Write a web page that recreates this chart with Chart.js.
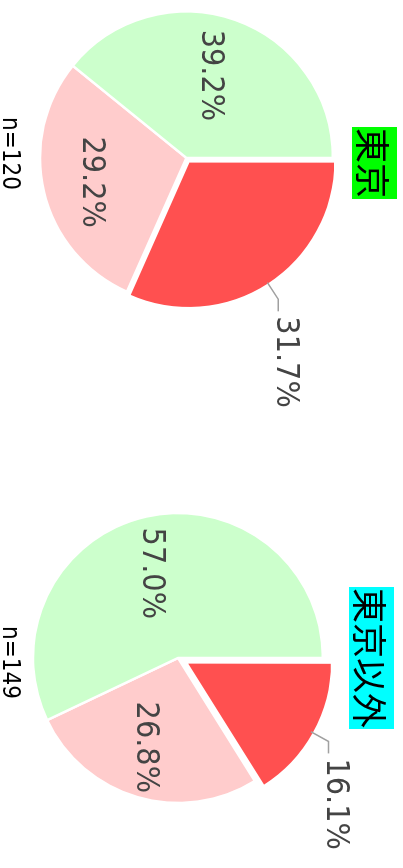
<!DOCTYPE html>
<html>
<head>
<meta charset="utf-8">
<script src="https://cdn.jsdelivr.net/npm/chart.js@4"></script>
<style>
  body { margin: 0; overflow: hidden; background: #fff; }
  /* the whole picture is laid out sideways and then turned 90deg */
  #stage { position: absolute; left: 0; top: 0; width: 868px; height: 403px;
           transform-origin: 0 0; transform: translate(403px, 0) rotate(90deg); }
  .pie { position: absolute; top: 0; }
  .ttl { position: absolute; font-family: "Noto Sans CJK JP"; font-size: 35px;
         line-height: 45px; color: #000; padding: 0 1px; white-space: nowrap; }
  .cnt { position: absolute; font-family: "DejaVu Sans Condensed", "DejaVu Sans"; font-stretch: condensed;
         font-size: 24px; line-height: 1; color: #000; white-space: nowrap; }
</style>
</head>
<body>
<div id="stage">
  <canvas id="pie1" class="pie" width="434" height="403" style="left:0"></canvas>
  <canvas id="pie2" class="pie" width="434" height="403" style="left:434px"></canvas>
  <div id="t1" class="ttl" style="left:127px; top:6px; background:#00ff00"></div>
  <div id="t2" class="ttl" style="left:587px; top:9px; background:#00ffff"></div>
  <div id="n1" class="cnt" style="left:117px; top:380px"></div>
  <div id="n2" class="cnt" style="left:626px; top:380px"></div>
</div>
<script>
// data
const categories = ['項目1', '項目2', '項目3'];
const tokyoValues = [31.7, 29.2, 39.2];
const otherValues = [16.1, 26.8, 57.0];
const titles = ['東京', '東京以外'];
const counts = ['n=120', 'n=149'];

const sliceColors = ['#ff5050', '#ffcccc', '#ccffcc'];
const labelFont = '32px "DejaVu Sans Condensed", "DejaVu Sans"';

document.getElementById('t1').textContent = titles[0];
document.getElementById('t2').textContent = titles[1];
document.getElementById('n1').textContent = counts[0];
document.getElementById('n2').textContent = counts[1];

// percent labels: first slice outside with a connector, the others inside
const pctLabels = {
    id: 'pctLabels',
    afterDatasetsDraw(chart) {
        const ctx = chart.ctx;
        const meta = chart.getDatasetMeta(0);
        const values = chart.data.datasets[0].data;
        ctx.save();
        ctx.font = labelFont;
        if ('fontStretch' in ctx) ctx.fontStretch = 'condensed';
        ctx.fillStyle = '#444';
        meta.data.forEach((arc, i) => {
            const p = arc.getProps(['x', 'y', 'startAngle', 'endAngle', 'outerRadius'], true);
            const mid = (p.startAngle + p.endAngle) / 2;
            const cx = Math.cos(mid), cy = Math.sin(mid);
            const txt = values[i].toFixed(1) + '%';
            if (i === 0) {
                // chart.js moves an offset slice by offset/4
                const off = (arc.options.offset || 0) / 4;
                const r0 = p.outerRadius + off - 2;
                const r1 = p.outerRadius + off + 18;
                const ex = p.x + cx * r1, ey = p.y + cy * r1;
                ctx.strokeStyle = '#a0a0a0';
                ctx.lineWidth = 1.5;
                ctx.beginPath();
                ctx.moveTo(p.x + cx * r0, p.y + cy * r0);
                ctx.lineTo(ex, ey);
                ctx.lineTo(ex + 12, ey);
                ctx.stroke();
                ctx.textAlign = 'left';
                ctx.textBaseline = 'alphabetic';
                ctx.fillText(txt, ex + 17, ey + 1);
            } else {
                const r = p.outerRadius * 0.62;
                ctx.textAlign = 'center';
                ctx.textBaseline = 'middle';
                ctx.fillText(txt, p.x + cx * r + 3, p.y + cy * r + 7);
            }
        });
        ctx.restore();
    }
};

function pieChart(id, values, radius, sliceOffset, pad) {
    const data = {
        labels: categories,
        datasets: [{
            data: values,
            backgroundColor: sliceColors,
            borderColor: '#ffffff',
            borderWidth: 2.5,
            offset: [sliceOffset * 4, 0, 0],
            radius: radius
        }]
    };

    const config = {
        type: 'pie',
        data: data,
        options: {
            responsive: false,
            animation: false,
            layout: { padding: pad },
            plugins: {
                legend: { display: false },
                tooltip: { enabled: false }
            }
        },
        plugins: [pctLabels]
    };

    let ctx = document.getElementById(id).getContext('2d');
    new Chart(ctx, config);
}

pieChart('pie1', tokyoValues, 146.5, 4, { left: 0, right: 118, top: 30, bottom: 0 });
pieChart('pie2', otherValues, 145, 9, { left: 14, right: 0, top: 47, bottom: 0 });
</script>
</body>
</html>
